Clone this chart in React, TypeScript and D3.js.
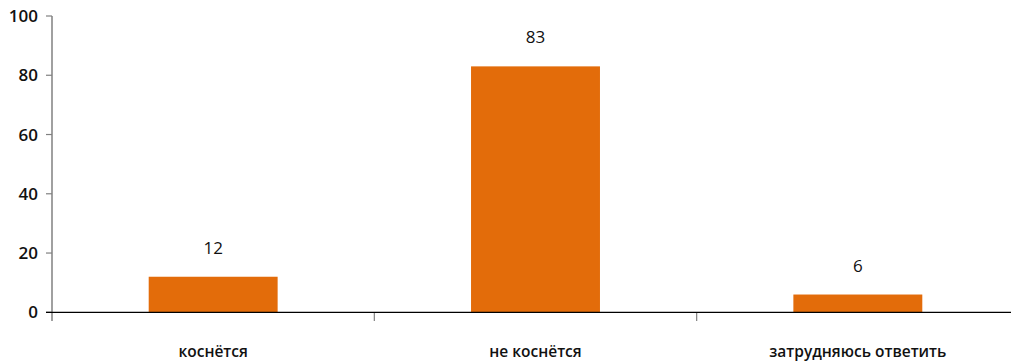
import React from "react";
import * as d3 from "d3";

const categories = ["коснётся", "не коснётся", "затрудняюсь ответить"];
const values = [12, 83, 6];
const yTicks = [0, 20, 40, 60, 80, 100];

export default function App() {
  const W = 1011, H = 363;
  const x0 = 52, x1 = 1019;
  const yTop = 16, yBot = 312.3;
  const x = d3.scaleBand<string>().domain(categories).range([x0, x1]).paddingInner(0).paddingOuter(0);
  const y = d3.scaleLinear().domain([0, 100]).range([yBot, yTop]);
  const bw = x.bandwidth() * 0.4;
  const font = "'Open Sans', sans-serif";
  return (
    <svg width={W} height={H} style={{ position: "absolute", left: 0, top: 0 }}>
      <rect width={W} height={H} fill="#fff" />
      {categories.map((c, i) => {
        const cx = (x(c) as number) + x.bandwidth() / 2;
        return (
          <g key={c}>
            <rect x={cx - bw / 2} y={y(values[i])} width={bw} height={yBot - y(values[i])} fill="#E36C0A" />
            <text x={cx} y={y(values[i]) - 23} textAnchor="middle" fontFamily={font} fontSize={17} fill="#111">{values[i]}</text>
            <text x={cx} y={357} textAnchor="middle" fontFamily={font} fontSize={15.5} fontWeight={600} fill="#111">{c}</text>
          </g>
        );
      })}
      {/* y axis */}
      <line x1={x0} x2={x0} y1={yTop} y2={321} stroke="#808080" strokeWidth={1.5} />
      {yTicks.map(t => (
        <g key={t}>
          <line x1={46} x2={x0} y1={y(t)} y2={y(t)} stroke="#808080" strokeWidth={1.2} />
          <text x={38} y={y(t) + 6} textAnchor="end" fontFamily={font} fontSize={17} fontWeight={600} fill="#111">{t}</text>
        </g>
      ))}
      {/* category ticks */}
      {categories.slice(1).map(c => (
        <line key={c} x1={x(c) as number} x2={x(c) as number} y1={yBot} y2={321} stroke="#808080" strokeWidth={1.2} />
      ))}
      <line x1={46} x2={W} y1={yBot} y2={yBot} stroke="#000" strokeWidth={1.2} />
    </svg>
  );
}
